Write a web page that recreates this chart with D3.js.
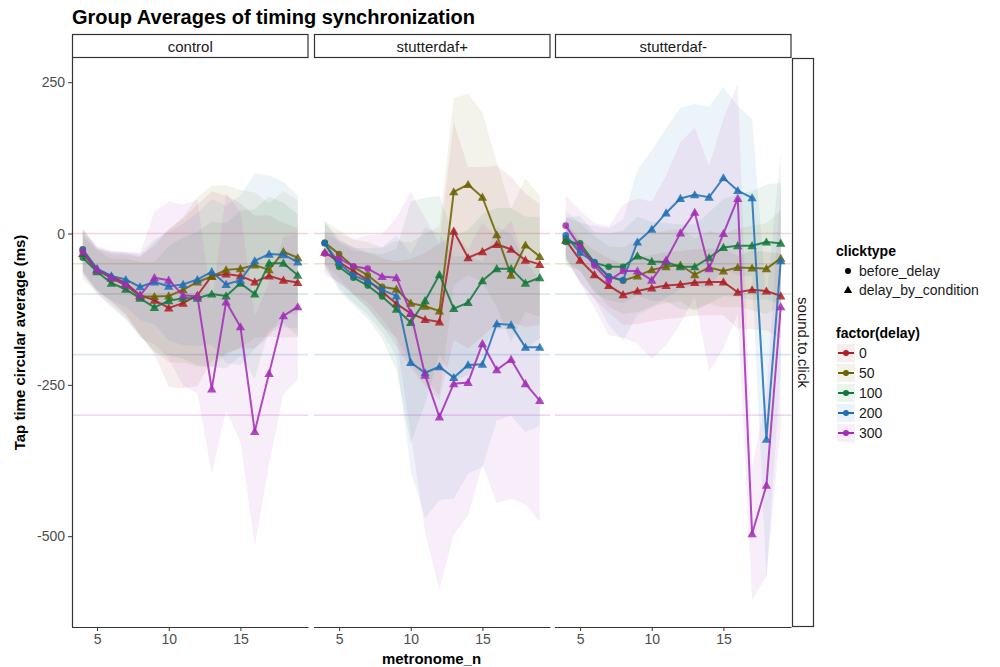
<!DOCTYPE html>
<html><head><meta charset="utf-8">
<script src="https://cdn.jsdelivr.net/npm/d3@7"></script>
<style>body{margin:0;background:#fff}text{font-family:"Liberation Sans",Arial,sans-serif}</style>
</head><body><svg id="c" width="1000" height="667"></svg>
<script>
const metronome_n = [4,5,6,7,8,9,10,11,12,13,14,15,16,17,18,19];
const panels = ["control","stutterdaf+","stutterdaf-"];
const delays = [0,50,100,200,300];
const delayColors = ["#AC1F24","#6B6200","#11783A","#1F6FB4","#A22CB5"];
const yTicks = [250,0,-250,-500];
const xTicks = [5,10,15];
const shapeLabels = ["before_delay","delay_by_condition"];

// control means
const control_0   = [-33,-60,-71,-82,-102,-110,-123,-115,-102,-70,-67,-70,-80,-70,-77,-81];
const control_50  = [-26,-60,-74,-85,-104,-104,-103,-93,-80,-71,-60,-58,-52,-60,-30,-40];
const control_100 = [-40,-63,-82,-92,-107,-122,-111,-107,-107,-100,-103,-82,-100,-49,-49,-69];
const control_200 = [-27,-58,-70,-76,-88,-80,-87,-84,-76,-63,-84,-77,-45,-34,-35,-47];
const control_300 = [-30,-60,-73,-85,-102,-73,-77,-102,-104,-257,-113,-154,-327,-231,-136,-121];
// control ribbon half-widths
const control_0_err   = [35,35,40,50,65,90,130,140,150,140,130,120,110,100,95,90];
const control_50_err  = [35,35,40,50,65,90,110,120,140,150,140,130,120,110,100,95];
const control_100_err = [35,35,40,50,60,75,90,100,110,120,120,120,140,110,100,100];
const control_200_err = [35,35,40,45,55,70,90,100,110,120,130,140,145,130,120,110];
const control_300_err = [35,40,45,55,70,110,130,150,160,140,180,190,190,150,130,120];

// stutterdaf+ means
const plus_0   = [-31,-47,-62,-77,-96,-116,-132,-142,-146,4,-40,-30,-18,-26,-44,-51];
const plus_50  = [-15,-34,-55,-69,-88,-92,-115,-120,-128,69,81,60,-2,-69,-19,-38];
const plus_100 = [-16,-55,-73,-86,-104,-125,-147,-111,-68,-124,-114,-78,-58,-58,-82,-73];
const plus_200 = [-16,-49,-69,-79,-93,-103,-213,-230,-220,-238,-217,-216,-149,-151,-188,-188];
const plus_300 = [-33,-41,-54,-58,-71,-73,-131,-234,-303,-248,-246,-182,-225,-208,-248,-276];
const plus_0_err   = [30,35,40,45,55,70,90,110,130,180,150,140,130,120,110,100];
const plus_50_err  = [35,40,45,55,65,80,100,120,140,155,150,140,120,110,110,100];
const plus_100_err = [35,40,45,55,70,100,200,170,130,120,120,110,100,100,110,100];
const plus_200_err = [35,40,45,55,70,100,180,240,220,200,180,170,160,150,140,130];
const plus_300_err = [35,40,45,55,70,100,200,260,285,250,220,200,220,230,200,200];

// stutterdaf- means
const minus_0   = [-11,-44,-68,-86,-101,-95,-90,-86,-84,-81,-80,-80,-97,-93,-95,-103];
const minus_50  = [-8,-22,-49,-71,-78,-70,-60,-55,-52,-68,-56,-62,-56,-57,-58,-41];
const minus_100 = [-14,-16,-48,-55,-55,-37,-46,-47,-55,-55,-40,-23,-20,-20,-14,-16];
const minus_200 = [-3,-32,-47,-71,-77,-14,7,34,58,64,60,92,71,59,-340,-45];
const minus_300 = [13,-22,-53,-78,-62,-62,-77,-44,1,35,-58,0,58,-496,-416,-121];
const minus_0_err   = [30,35,40,45,50,55,55,55,55,55,55,55,60,65,65,70];
const minus_50_err  = [35,40,45,50,55,60,60,60,60,60,60,60,65,70,75,80];
const minus_100_err = [40,45,50,55,60,65,65,65,70,70,75,80,85,90,95,100];
const minus_200_err = [40,50,60,80,100,120,130,140,150,150,150,150,140,130,230,180];
const minus_300_err = [50,60,70,90,110,120,130,140,150,140,170,190,190,110,150,200];

// last metronome_n with clicktype before_delay, per delay
const control_before = [3,4,4,4,4];
const plus_before    = [3,8,8,8,7];
const minus_before   = [3,8,8,8,8];

const panelMeans = [
  [control_0,control_50,control_100,control_200,control_300],
  [plus_0,plus_50,plus_100,plus_200,plus_300],
  [minus_0,minus_50,minus_100,minus_200,minus_300]];
const panelErrs = [
  [control_0_err,control_50_err,control_100_err,control_200_err,control_300_err],
  [plus_0_err,plus_50_err,plus_100_err,plus_200_err,plus_300_err],
  [minus_0_err,minus_50_err,minus_100_err,minus_200_err,minus_300_err]];
const panelBefore = [control_before,plus_before,minus_before];

const svg = d3.select("#c");
const panelLeft = [72,314,555], panelW = 236.5, plotTop = 58, plotBottom = 627;
const x = d3.scaleLinear().domain([3.25,19.75]).range([0,panelW]);
const y = d3.scaleLinear().domain([-650,290]).range([plotBottom,plotTop]);

svg.append("text").attr("x",72).attr("y",24).attr("font-size",20).attr("font-weight","bold").attr("fill","#000")
  .text("Group Averages of timing synchronization");

const defs = svg.append("defs");
defs.append("clipPath").attr("id","pclip").append("rect").attr("x",0).attr("y",plotTop).attr("width",panelW).attr("height",plotBottom-plotTop);

const tri = d3.symbol().type(d3.symbolTriangle).size(38);

panels.forEach((p,pi)=>{
  const g = svg.append("g").attr("transform",`translate(${panelLeft[pi]},0)`);
  // strip
  g.append("rect").attr("x",0.5).attr("y",34.5).attr("width",panelW-1).attr("height",23).attr("fill","#fff").attr("stroke","#333").attr("stroke-width",1.2);
  g.append("text").attr("x",panelW/2).attr("y",51.5).attr("text-anchor","middle").attr("font-size",15).attr("fill","#1a1a1a").text(p);
  const pg = g.append("g").attr("clip-path","url(#pclip)");
  // reference lines
  delays.forEach((d,di)=>{
    pg.append("line").attr("x1",0).attr("x2",panelW).attr("y1",y(-d)).attr("y2",y(-d))
      .attr("stroke",delayColors[di]).attr("stroke-opacity",0.18).attr("stroke-width",1.6);
  });
  // ribbons
  delays.forEach((d,di)=>{
    const m = panelMeans[pi][di], e = panelErrs[pi][di];
    const area = d3.area().x((v,i)=>x(metronome_n[i])).y0((v,i)=>y(m[i]-e[i])).y1((v,i)=>y(m[i]+e[i]));
    pg.append("path").attr("d",area(m)).attr("fill",delayColors[di]).attr("fill-opacity",0.08);
  });
  // lines + points
  delays.forEach((d,di)=>{
    const m = panelMeans[pi][di];
    const line = d3.line().x((v,i)=>x(metronome_n[i])).y(v=>y(v));
    pg.append("path").attr("d",line(m)).attr("fill","none").attr("stroke",delayColors[di]).attr("stroke-width",2).attr("stroke-opacity",0.85);
    m.forEach((v,i)=>{
      if (metronome_n[i] <= panelBefore[pi][di]) {
        pg.append("circle").attr("cx",x(metronome_n[i])).attr("cy",y(v)).attr("r",3.3).attr("fill",delayColors[di]).attr("fill-opacity",0.85);
      } else {
        pg.append("path").attr("d",tri()).attr("transform",`translate(${x(metronome_n[i])},${y(v)+0.8})`).attr("fill",delayColors[di]).attr("fill-opacity",0.85);
      }
    });
  });
  // x axis
  const ax = g.append("g").attr("transform",`translate(0,${plotBottom})`).call(d3.axisBottom(x).tickValues(xTicks).tickSize(4).tickPadding(3));
  ax.select(".domain").attr("stroke","#333").attr("stroke-width",1.2).attr("d",`M0,0.5H${panelW}`);
  ax.selectAll(".tick line").attr("stroke","#333");
  ax.selectAll("text").attr("font-size",14).attr("fill","#4d4d4d").attr("font-family","Liberation Sans, Arial, sans-serif");
  if (pi===0) {
    const ay = g.append("g").call(d3.axisLeft(y).tickValues(yTicks).tickFormat(d=>String(d)).tickSize(4).tickPadding(3));
    ay.select(".domain").attr("stroke","#333").attr("stroke-width",1.2).attr("d",`M0.5,${plotTop}V${plotBottom}`);
    ay.selectAll(".tick line").attr("stroke","#333");
    ay.selectAll("text").attr("font-size",14).attr("fill","#4d4d4d").attr("font-family","Liberation Sans, Arial, sans-serif");
  }
});

// right strip
svg.append("rect").attr("x",792.5).attr("y",58.5).attr("width",21).attr("height",plotBottom-plotTop-1).attr("fill","#fff").attr("stroke","#333").attr("stroke-width",1.2);
svg.append("text").attr("transform",`translate(798,${(plotTop+plotBottom)/2}) rotate(90)`).attr("text-anchor","middle").attr("font-size",15).attr("fill","#1a1a1a").text("sound.to.click");

// axis titles
svg.append("text").attr("x",431.5).attr("y",664).attr("text-anchor","middle").attr("font-size",15).attr("font-weight","bold").text("metronome_n");
svg.append("text").attr("transform",`translate(25,${(plotTop+plotBottom)/2}) rotate(-90)`).attr("text-anchor","middle").attr("font-size",15).attr("font-weight","bold").text("Tap time circular average (ms)");

// legends
const lg = svg.append("g");
lg.append("text").attr("x",836).attr("y",256).attr("font-size",14).attr("font-weight","bold").text("clicktype");
shapeLabels.forEach((s,i)=>{
  const cy = 271 + i*19;
  if (i===0) lg.append("circle").attr("cx",848).attr("cy",cy).attr("r",3).attr("fill","#000");
  else lg.append("path").attr("d",d3.symbol().type(d3.symbolTriangle).size(30)()).attr("transform",`translate(848,${cy+0.5})`).attr("fill","#000");
  lg.append("text").attr("x",859).attr("y",cy+5).attr("font-size",14).attr("fill","#1a1a1a").text(s);
});
lg.append("text").attr("x",836).attr("y",338).attr("font-size",14).attr("font-weight","bold").text("factor(delay)");
delays.forEach((d,i)=>{
  const cy = 353 + i*20;
  lg.append("rect").attr("x",837).attr("y",cy-9).attr("width",18).attr("height",18).attr("fill",delayColors[i]).attr("fill-opacity",0.08);
  lg.append("line").attr("x1",838).attr("x2",854).attr("y1",cy).attr("y2",cy).attr("stroke",delayColors[i]).attr("stroke-width",2);
  lg.append("circle").attr("cx",846).attr("cy",cy).attr("r",3).attr("fill",delayColors[i]);
  lg.append("text").attr("x",859).attr("y",cy+5).attr("font-size",14).attr("fill","#1a1a1a").text(d);
});
</script></body></html>
